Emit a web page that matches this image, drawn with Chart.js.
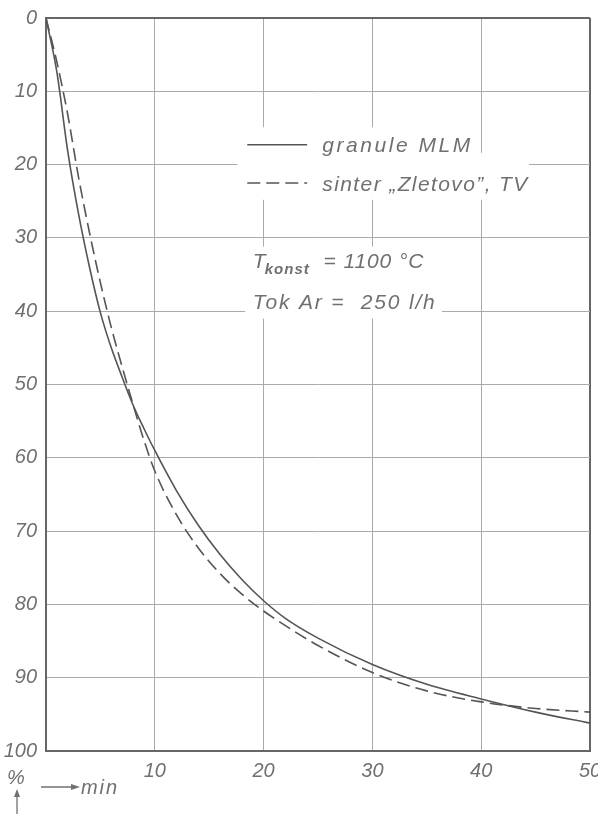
<!DOCTYPE html>
<html>
<head>
<meta charset="utf-8">
<script src="https://cdn.jsdelivr.net/npm/chart.js@4.4.1/dist/chart.umd.min.js"></script>
<style>
html,body{margin:0;padding:0;background:#fff;}
#wrap{width:598px;height:814px;position:relative;}
</style>
</head>
<body>
<div id="wrap"><canvas id="c" width="598" height="814"></canvas></div>
<script>
// ---- data ----
const timeMin = [0,1,2,3,4,5,6,7,8,9,10,12,14,16,18,20,22,25,30,35,40,45,50];
const granuleMLM = [0,7.4,18.2,26.8,34,40.2,45,49,52.8,56,59,64.5,69.2,73.2,76.6,79.5,81.9,84.6,88.2,90.9,92.9,94.7,96.2];
const sinterZletovo = [0,6,13.2,21.8,29.3,36.1,42.2,47.6,52.7,57.6,61.8,67.8,72.3,75.8,78.6,80.9,82.9,85.6,89.3,91.8,93.3,94.2,94.7];
const xTickLabels = [10,20,30,40,50];
const yTickLabels = [0,10,20,30,40,50,60,70,80,90,100];
const legendLabels = ['granule MLM', 'sinter „Zletovo”, TV'];

const ink = '#555';
const textCol = '#707070';
const FONT = '"Liberation Sans", Arial, sans-serif';

function pts(xs, ys){ return xs.map((x,i)=>({x:x, y:ys[i]})); }

function fitText(ctx, str, x, y, targetW){
  ctx.letterSpacing = '0px';
  const w = ctx.measureText(str).width;
  const ls = (targetW - w) / Math.max(1, str.length - 1);
  ctx.letterSpacing = ls.toFixed(2) + 'px';
  ctx.fillText(str, x, y);
  ctx.letterSpacing = '0px';
}

const annot = {
  id: 'annot',
  afterDraw(chart){
    const ctx = chart.ctx;
    const xs = chart.scales.x, ys = chart.scales.y;
    const px = v => xs.getPixelForValue(v);
    const py = v => ys.getPixelForValue(v);
    ctx.save();
    // white panels behind the text (grid interrupted)
    ctx.fillStyle = '#fff';
    ctx.fillRect(px(17.6), py(14.9), px(39.6)-px(17.6), py(24.8)-py(14.9));
    ctx.fillRect(px(39.6), py(18.4), px(44.4)-px(39.6), py(24.8)-py(18.4));
    ctx.fillRect(px(18.3), py(31.2), px(36.4)-px(18.3), py(41.0)-py(31.2));

    // legend keys
    ctx.strokeStyle = ink;
    ctx.lineWidth = 1.6;
    ctx.beginPath();
    ctx.moveTo(px(18.5), py(17.3)); ctx.lineTo(px(24.0), py(17.3));
    ctx.stroke();
    ctx.setLineDash([13,6]);
    ctx.beginPath();
    ctx.moveTo(px(18.5), py(22.5)); ctx.lineTo(px(24.0), py(22.5));
    ctx.stroke();
    ctx.setLineDash([]);

    ctx.fillStyle = textCol;
    ctx.textBaseline = 'alphabetic';
    ctx.textAlign = 'left';
    ctx.font = 'italic 21px ' + FONT;
    fitText(ctx, legendLabels[0], px(25.4), py(17.3)+7, 148);
    fitText(ctx, legendLabels[1], px(25.4), py(22.5)+8, 205);

    // T_konst = 1100 °C
    const b1 = py(33.0)+8;
    ctx.font = 'italic 21px ' + FONT;
    ctx.fillText('T', px(19.0), b1);
    ctx.font = 'italic bold 15px ' + FONT;
    fitText(ctx, 'konst', px(19.0)+12, b1+6, 44);
    ctx.font = 'italic 21px ' + FONT;
    fitText(ctx, '= 1100 °C', px(25.5), b1, 100);

    // Tok Ar = 250 l/h
    fitText(ctx, 'Tok Ar =  250 l/h', px(19.0), py(38.6)+8, 182);

    // axis units at bottom left
    ctx.font = 'italic 20px ' + FONT;
    ctx.fillText('%', 7, 784);
    ctx.strokeStyle = textCol;
    ctx.lineWidth = 1.3;
    ctx.beginPath(); ctx.moveTo(17, 814); ctx.lineTo(17, 793); ctx.stroke();
    ctx.beginPath(); ctx.moveTo(17, 789); ctx.lineTo(14, 797); ctx.lineTo(20, 797); ctx.closePath();
    ctx.fillStyle = textCol; ctx.fill();
    ctx.beginPath(); ctx.moveTo(41, 787); ctx.lineTo(74, 787); ctx.stroke();
    ctx.beginPath(); ctx.moveTo(80, 787); ctx.lineTo(71, 784); ctx.lineTo(71, 790); ctx.closePath(); ctx.fill();
    fitText(ctx, 'min', 81, 794, 36);
    ctx.restore();
  }
};

new Chart(document.getElementById('c'), {
  type: 'line',
  data: {
    datasets: [
      { label: legendLabels[0], data: pts(timeMin, granuleMLM), borderColor: ink, borderWidth: 1.6,
        pointRadius: 0, cubicInterpolationMode: 'monotone', fill: false },
      { label: legendLabels[1], data: pts(timeMin, sinterZletovo), borderColor: ink, borderWidth: 1.6,
        borderDash: [13,6], pointRadius: 0, cubicInterpolationMode: 'monotone', fill: false }
    ]
  },
  options: {
    responsive: false,
    animation: false,
    devicePixelRatio: 1,
    layout: { padding: { left: 0, right: 8, top: 18, bottom: 0 } },
    plugins: { legend: { display: false }, tooltip: { enabled: false } },
    scales: {
      x: {
        type: 'linear', min: 0, max: 50,
        afterFit(s){ s.height = 63; s.paddingLeft = 0; s.paddingRight = 0; },
        ticks: { stepSize: 10, padding: 8, color: textCol, maxRotation: 0,
          font: { family: FONT, size: 20, style: 'italic' },
          callback: v => xTickLabels.includes(v) ? String(v) : '' },
        grid: { drawTicks: false,
          color: c => (c.tick && (c.tick.value === 50)) ? '#666' : '#aaa',
          lineWidth: c => (c.tick && (c.tick.value === 50)) ? 2 : 1 },
        border: { display: true, color: '#666', width: 2 }
      },
      y: {
        type: 'linear', min: 0, max: 100, reverse: true,
        afterFit(s){ s.width = 46; s.paddingTop = 0; s.paddingBottom = 0; },
        ticks: { stepSize: 10, padding: 9, color: textCol,
          font: { family: FONT, size: 20, style: 'italic' },
          callback: v => yTickLabels.includes(v) ? String(v) : '' },
        grid: { drawTicks: false,
          color: c => (c.tick && (c.tick.value === 0 || c.tick.value === 100)) ? '#666' : '#aaa',
          lineWidth: c => (c.tick && (c.tick.value === 0 || c.tick.value === 100)) ? 2 : 1 },
        border: { display: true, color: '#666', width: 2 }
      }
    }
  },
  plugins: [annot]
});
</script>
</body>
</html>
